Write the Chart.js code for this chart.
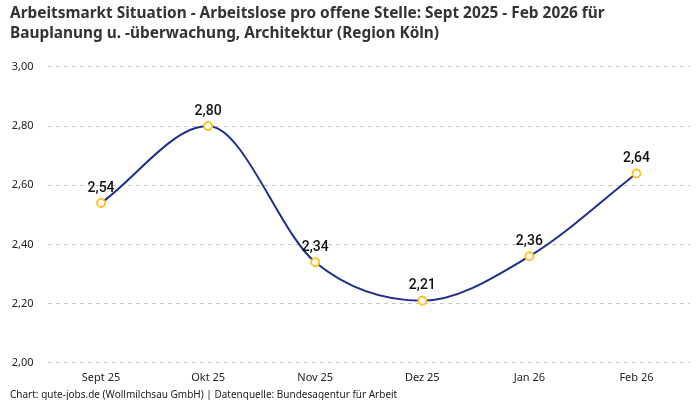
<!DOCTYPE html>
<html>
<head>
<meta charset="utf-8">
<script src="https://cdn.jsdelivr.net/npm/chart.js@4"></script>
<style>
  html, body { margin: 0; padding: 0; background: #fff; }
  #wrap { width: 700px; height: 400px; position: relative; }
</style>
</head>
<body>
<div id="wrap"><canvas id="chart"></canvas></div>
<script>
const months = ['Sept 25', 'Okt 25', 'Nov 25', 'Dez 25', 'Jan 26', 'Feb 26'];
const ratio = [2.54, 2.80, 2.34, 2.21, 2.36, 2.64];
const titleLines = [
    'Arbeitsmarkt Situation - Arbeitslose pro offene Stelle: Sept 2025 - Feb 2026 für',
    'Bauplanung u. -überwachung, Architektur (Region Köln)'
];
const sourceText = 'Chart: gute-jobs.de (Wollmilchsau GmbH) | Datenquelle: Bundesagentur für Arbeit';

const fmt = v => v.toFixed(2).replace('.', ',');

// Werte über den Punkten
const valueLabels = {
    id: 'valueLabels',
    afterDatasetsDraw(chart) {
        const ctx = chart.ctx;
        const meta = chart.getDatasetMeta(0);
        ctx.save();
        ctx.font = '500 14px Roboto, Arial, sans-serif';
        ctx.fillStyle = '#111';
        ctx.textAlign = 'center';
        ctx.textBaseline = 'bottom';
        meta.data.forEach((pt, i) => {
            ctx.fillText(fmt(ratio[i]), pt.x, pt.y - 8);
        });
        ctx.restore();
    }
};

new Chart(document.getElementById('chart').getContext('2d'), {
    type: 'line',
    data: {
        labels: months,
        datasets: [{
            data: ratio,
            borderColor: '#1f2d8f',
            borderWidth: 2,
            cubicInterpolationMode: 'monotone',
            pointRadius: 4,
            pointBorderWidth: 2,
            pointBackgroundColor: '#fff',
            pointBorderColor: '#fbc42a',
            fill: false
        }]
    },
    options: {
        responsive: true,
        maintainAspectRatio: false,
        animation: false,
        layout: { padding: { left: 10, right: 10, top: 0, bottom: 0 } },
        plugins: {
            legend: { display: false },
            tooltip: { enabled: false },
            title: {
                display: true,
                text: titleLines,
                align: 'start',
                color: '#333',
                font: { family: '"Noto Sans", sans-serif', size: 15.4, weight: 'bold', lineHeight: 1.28 },
                padding: { top: 4, bottom: 23.5 }
            },
            subtitle: {
                display: true,
                position: 'bottom',
                text: sourceText,
                align: 'start',
                color: '#222',
                font: { family: '"Noto Sans", sans-serif', size: 10, lineHeight: 1 },
                padding: { top: -2, bottom: 0 }
            }
        },
        scales: {
            x: {
                offset: true,
                grid: { display: false, drawTicks: false },
                border: { display: false },
                ticks: { color: '#222', font: { family: '"Noto Sans", sans-serif', size: 11 }, padding: 8 }
            },
            y: {
                min: 2,
                max: 3,
                grid: { color: '#c8c8c8', drawTicks: false },
                border: { display: false, dash: [4, 4] },
                afterFit: axis => { axis.width = 37.5; },
                ticks: {
                    stepSize: 0.2,
                    color: '#222',
                    padding: 14,
                    font: { family: '"Noto Sans", sans-serif', size: 11 },
                    callback: v => fmt(v)
                }
            }
        }
    },
    plugins: [valueLabels]
});
</script>
</body>
</html>
